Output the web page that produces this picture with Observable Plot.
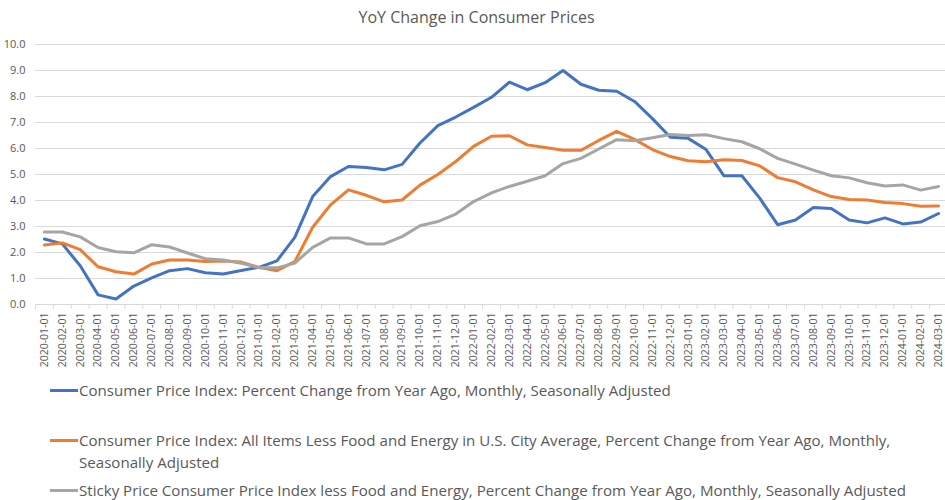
<!DOCTYPE html>
<html><head><meta charset="utf-8">
<script src="https://cdn.jsdelivr.net/npm/d3@7"></script>
<script src="https://cdn.jsdelivr.net/npm/@observablehq/plot@0.6"></script>
<style>
body{margin:0;background:#fff;font-family:"Open Sans",sans-serif;color:#595959;width:945px;overflow:hidden;}
#title{height:30px;line-height:34px;text-align:center;font-size:16px;padding-left:8px;}
#chart svg{display:block;}
.leg{position:relative;padding-left:79px;font-size:15.1px;line-height:22px;white-space:nowrap;}
.leg .sw{position:absolute;left:50px;top:10px;width:28px;height:3px;}
</style></head><body>
<div id="title">YoY Change in Consumer Prices</div>
<div id="chart"></div>
<div id="legend"></div>
<script>
const months = ["2020-01-01","2020-02-01","2020-03-01","2020-04-01","2020-05-01","2020-06-01","2020-07-01","2020-08-01","2020-09-01","2020-10-01","2020-11-01","2020-12-01",
"2021-01-01","2021-02-01","2021-03-01","2021-04-01","2021-05-01","2021-06-01","2021-07-01","2021-08-01","2021-09-01","2021-10-01","2021-11-01","2021-12-01",
"2022-01-01","2022-02-01","2022-03-01","2022-04-01","2022-05-01","2022-06-01","2022-07-01","2022-08-01","2022-09-01","2022-10-01","2022-11-01","2022-12-01",
"2023-01-01","2023-02-01","2023-03-01","2023-04-01","2023-05-01","2023-06-01","2023-07-01","2023-08-01","2023-09-01","2023-10-01","2023-11-01","2023-12-01",
"2024-01-01","2024-02-01","2024-03-01"];
const cpi = [2.52,2.33,1.49,0.37,0.21,0.71,1.02,1.30,1.38,1.22,1.17,1.31,
1.43,1.68,2.58,4.15,4.92,5.31,5.27,5.18,5.39,6.21,6.88,7.21,
7.58,7.97,8.55,8.26,8.53,9.00,8.47,8.24,8.20,7.81,7.15,6.43,
6.39,5.96,4.95,4.95,4.09,3.07,3.25,3.73,3.69,3.25,3.14,3.33,
3.10,3.17,3.50];
const core = [2.29,2.37,2.11,1.45,1.26,1.17,1.56,1.71,1.71,1.65,1.67,1.63,
1.43,1.30,1.65,2.97,3.83,4.41,4.20,3.95,4.02,4.59,5.00,5.50,
6.08,6.47,6.49,6.14,6.04,5.93,5.93,6.31,6.66,6.35,5.96,5.69,
5.53,5.49,5.57,5.54,5.33,4.88,4.72,4.41,4.15,4.04,4.02,3.92,
3.88,3.78,3.79];
const sticky = [2.79,2.79,2.60,2.19,2.03,1.99,2.30,2.21,1.98,1.76,1.71,1.59,
1.41,1.41,1.59,2.20,2.56,2.56,2.33,2.33,2.61,3.03,3.19,3.48,
3.96,4.29,4.54,4.74,4.95,5.42,5.62,5.98,6.34,6.30,6.41,6.54,
6.50,6.53,6.38,6.26,5.99,5.62,5.40,5.17,4.95,4.87,4.68,4.56,
4.60,4.40,4.54];
const seriesNames = [
  "Consumer Price Index: Percent Change from Year Ago, Monthly, Seasonally Adjusted",
  "Consumer Price Index: All Items Less Food and Energy in U.S. City Average, Percent Change from Year Ago, Monthly, Seasonally Adjusted",
  "Sticky Price Consumer Price Index less Food and Energy, Percent Change from Year Ago, Monthly, Seasonally Adjusted"
];
const legendLines = [
  ["Consumer Price Index: Percent Change from Year Ago, Monthly, Seasonally Adjusted"],
  ["Consumer Price Index: All Items Less Food and Energy in U.S. City Average, Percent Change from Year Ago, Monthly,", "Seasonally Adjusted"],
  ["Sticky Price Consumer Price Index less Food and Energy, Percent Change from Year Ago, Monthly, Seasonally Adjusted"]
];
const seriesColors = ["#4472C4","#ED7D31","#A5A5A5"];
const yTicks = [0,1,2,3,4,5,6,7,8,9,10];

const allValues = [cpi, core, sticky];
const data = [];
allValues.forEach((vals, s) => vals.forEach((v, i) => data.push({date: months[i], value: v, series: seriesNames[s]})));

const W = 945, mL = 35, mR = -2;
const step = (W - mL - mR) / months.length;

const chart = Plot.plot({
  width: W, height: 345,
  marginTop: 14, marginLeft: mL, marginRight: mR, marginBottom: 71,
  style: {fontFamily: "Open Sans, sans-serif", color: "#595959", background: "#fff", overflow: "visible"},
  x: {type: "point", domain: months, padding: 0.5, label: null},
  y: {domain: [0, 10], label: null},
  color: {domain: seriesNames, range: seriesColors},
  marks: [
    Plot.gridY(yTicks, {stroke: "#d9d9d9", strokeOpacity: 1}),
    Plot.axisY(yTicks, {tickSize: 0, tickPadding: 10, tickFormat: d => d.toFixed(1), fontSize: 11, fill: "#595959", label: null}),
    Plot.ruleY([0], {stroke: "#d9d9d9"}),
    Plot.axisX(months, {tickSize: 5, tickFormat: () => "", dx: -step / 2, stroke: "#d9d9d9", label: null}),
    Plot.axisX(months, {tickSize: 0, tickPadding: 8, tickRotate: -90, fontSize: 10.5, fill: "#595959", label: null}),
    Plot.lineY(data, {x: "date", y: "value", z: "series", stroke: "series", strokeWidth: 3, strokeLinejoin: "round", strokeLinecap: "round"})
  ]
});
document.getElementById("chart").appendChild(chart);

const leg = document.getElementById("legend");
const tops = [4, 28, 6];
legendLines.forEach((lines, i) => {
  const d = document.createElement("div");
  d.className = "leg";
  d.style.marginTop = tops[i] + "px";
  const sw = document.createElement("span");
  sw.className = "sw";
  sw.style.background = seriesColors[i];
  d.appendChild(sw);
  lines.forEach((t, j) => {
    if (j) d.appendChild(document.createElement("br"));
    d.appendChild(document.createTextNode(t));
  });
  leg.appendChild(d);
});
</script>
</body></html>
